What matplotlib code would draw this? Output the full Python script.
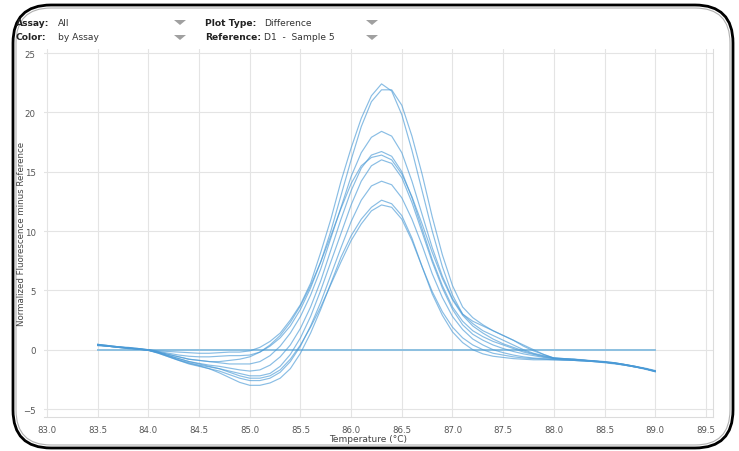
import matplotlib
matplotlib.use("Agg")
import matplotlib.pyplot as plt
import numpy as np
from matplotlib.patches import FancyBboxPatch, Polygon

# Temperature grid (°C), 83.5 .. 89.0 in 0.1 steps
temps = [round(83.5 + 0.1 * i, 1) for i in range(56)]

curve_a = [0.45, 0.35, 0.25, 0.2, 0.1, 0.0,
           -0.1, -0.15, -0.2, -0.25, -0.3, -0.3, -0.25, -0.2, -0.2, -0.1,
           0.2, 0.7, 1.4, 2.5, 3.8, 5.6, 8.2, 11.0, 14.2, 17.0,
           19.5, 21.4, 22.4, 21.8, 19.8, 16.8, 13.4, 10.0, 7.0, 4.6,
           3.0, 2.4, 2.0, 1.6, 1.2, 0.8, 0.4, 0.0, -0.4, -0.7,
           -0.75, -0.8, -0.85, -0.95, -1.0, -1.1, -1.25, -1.4, -1.6, -1.8]
curve_b = [0.4, 0.3, 0.25, 0.15, 0.1, 0.0,
           -0.15, -0.3, -0.45, -0.55, -0.6, -0.6, -0.55, -0.5, -0.5, -0.45,
           -0.2, 0.3, 1.0, 2.0, 3.4, 5.2, 7.4, 10.0, 13.0, 16.0,
           18.8, 20.9, 21.9, 21.9, 20.6, 18.0, 14.8, 11.2, 8.0, 5.4,
           3.6, 2.7, 2.1, 1.6, 1.2, 0.8, 0.3, -0.1, -0.4, -0.7,
           -0.75, -0.8, -0.9, -0.95, -1.05, -1.15, -1.25, -1.45, -1.6, -1.8]
curve_c = [0.35, 0.3, 0.2, 0.15, 0.1, -0.05,
           -0.2, -0.4, -0.6, -0.8, -0.9, -1.0, -1.1, -1.2, -1.2, -1.2,
           -1.0, -0.5, 0.3, 1.4, 2.8, 4.6, 6.8, 9.4, 12.0, 14.6,
           16.6, 17.9, 18.4, 18.0, 16.6, 14.2, 11.4, 8.6, 6.2, 4.3,
           3.0, 2.2, 1.6, 1.2, 0.8, 0.4, 0.0, -0.3, -0.5, -0.7,
           -0.8, -0.85, -0.9, -1.0, -1.05, -1.15, -1.3, -1.45, -1.6, -1.85]
curve_d = [0.4, 0.3, 0.2, 0.15, 0.05, -0.05,
           -0.25, -0.5, -0.75, -1.0, -1.15, -1.3, -1.4, -1.55, -1.7, -1.8,
           -1.7, -1.3, -0.6, 0.4, 1.8, 3.6, 5.8, 8.4, 11.0, 13.4,
           15.3, 16.4, 16.7, 16.3, 15.0, 12.8, 10.2, 7.6, 5.4, 3.6,
           2.4, 1.6, 1.1, 0.7, 0.4, 0.1, -0.2, -0.4, -0.6, -0.75,
           -0.8, -0.85, -0.9, -0.95, -1.05, -1.1, -1.25, -1.4, -1.6, -1.8]
curve_e = [0.45, 0.35, 0.25, 0.15, 0.05, 0.0,
           -0.2, -0.4, -0.6, -0.8, -0.9, -1.0, -1.0, -0.9, -0.8, -0.6,
           -0.2, 0.4, 1.2, 2.3, 3.7, 5.4, 7.4, 9.6, 11.9, 14.0,
           15.5, 16.2, 16.4, 16.0, 14.8, 12.9, 10.6, 8.2, 6.0, 4.2,
           2.9, 2.0, 1.4, 0.9, 0.5, 0.2, -0.1, -0.35, -0.55, -0.7,
           -0.75, -0.8, -0.9, -0.95, -1.0, -1.1, -1.25, -1.4, -1.55, -1.75]
curve_f = [0.35, 0.3, 0.2, 0.1, 0.05, -0.05,
           -0.25, -0.55, -0.85, -1.1, -1.3, -1.45, -1.6, -1.8, -2.0, -2.2,
           -2.2, -2.0, -1.4, -0.4, 1.0, 2.8, 5.0, 7.4, 9.8, 12.2,
           14.2, 15.5, 16.0, 15.7, 14.5, 12.4, 9.9, 7.4, 5.2, 3.4,
           2.1, 1.3, 0.8, 0.4, 0.1, -0.15, -0.35, -0.5, -0.65, -0.75,
           -0.8, -0.85, -0.9, -0.95, -1.05, -1.15, -1.25, -1.4, -1.6, -1.8]
curve_g = [0.4, 0.3, 0.2, 0.1, 0.05, -0.05,
           -0.3, -0.6, -0.9, -1.2, -1.4, -1.6, -1.8, -2.1, -2.4, -2.6,
           -2.6, -2.4, -1.9, -1.0, 0.3, 2.0, 4.0, 6.3, 8.6, 10.8,
           12.6, 13.8, 14.2, 13.9, 12.8, 11.0, 8.8, 6.4, 4.4, 2.8,
           1.7, 0.9, 0.4, 0.0, -0.25, -0.45, -0.6, -0.7, -0.75, -0.8,
           -0.85, -0.9, -0.95, -1.0, -1.05, -1.15, -1.3, -1.45, -1.6, -1.85]
curve_h = [0.45, 0.35, 0.25, 0.15, 0.05, -0.05,
           -0.3, -0.6, -0.9, -1.15, -1.35, -1.6, -1.95, -2.35, -2.75, -3.0,
           -3.0, -2.8, -2.4, -1.6, -0.3, 1.4, 3.4, 5.6, 7.8, 9.6,
           11.0, 12.0, 12.6, 12.3, 11.3, 9.4, 7.0, 4.7, 2.9, 1.5,
           0.6, 0.0, -0.35, -0.55, -0.65, -0.75, -0.8, -0.85, -0.85, -0.85,
           -0.9, -0.9, -0.95, -1.0, -1.05, -1.15, -1.3, -1.45, -1.6, -1.8]
curve_i = [0.4, 0.3, 0.2, 0.15, 0.05, 0.0,
           -0.25, -0.5, -0.75, -1.0, -1.2, -1.4, -1.6, -1.9, -2.2, -2.4,
           -2.4, -2.2, -1.7, -0.8, 0.4, 1.9, 3.6, 5.5, 7.4, 9.2,
           10.6, 11.7, 12.2, 12.0, 11.0, 9.2, 7.0, 4.9, 3.2, 1.9,
           1.0, 0.4, 0.0, -0.3, -0.45, -0.6, -0.7, -0.75, -0.8, -0.85,
           -0.85, -0.9, -0.95, -1.0, -1.1, -1.2, -1.3, -1.45, -1.65, -1.85]
curves = [curve_a, curve_b, curve_c, curve_d, curve_e, curve_f, curve_g, curve_h, curve_i]

reference_x = [83.5, 89.0]
reference_y = [0.0, 0.0]

x_ticks = [83.0, 83.5, 84.0, 84.5, 85.0, 85.5, 86.0, 86.5, 87.0, 87.5, 88.0, 88.5, 89.0, 89.5]
y_ticks = [-5, 0, 5, 10, 15, 20, 25]

W, H = 739, 452
fig = plt.figure(figsize=(W / 100, H / 100), dpi=100)
fig.patch.set_facecolor("white")

# background overlay in pixel coordinates
bg = fig.add_axes([0, 0, 1, 1], zorder=0)
bg.set_xlim(0, W)
bg.set_ylim(H, 0)
bg.axis("off")
bg.add_patch(FancyBboxPatch((13, 6), 720, 443, boxstyle="round,pad=0,rounding_size=38",
                            fill=False, edgecolor="black", linewidth=2.0))
bg.add_patch(FancyBboxPatch((16, 9), 714, 437, boxstyle="round,pad=0,rounding_size=35",
                            fill=False, edgecolor="#b0b0b0", linewidth=0.8))

hdr_fs = 6.6
bg.text(16, 24, "Assay:", fontsize=hdr_fs, fontweight="bold", va="center", color="#222222")
bg.text(58, 24, "All", fontsize=hdr_fs, va="center", color="#333333")
bg.text(16, 38, "Color:", fontsize=hdr_fs, fontweight="bold", va="center", color="#222222")
bg.text(58, 38, "by Assay", fontsize=hdr_fs, va="center", color="#333333")
bg.text(205, 24, "Plot Type:", fontsize=hdr_fs, fontweight="bold", va="center", color="#222222")
bg.text(264, 24, "Difference", fontsize=hdr_fs, va="center", color="#333333")
bg.text(205, 38, "Reference:", fontsize=hdr_fs, fontweight="bold", va="center", color="#222222")
bg.text(264, 38, "D1  -  Sample 5", fontsize=hdr_fs, va="center", color="#333333")
for (tx, ty) in [(180, 21), (180, 36), (372, 21), (372, 36)]:
    bg.add_patch(Polygon([[tx - 6, ty], [tx + 6, ty], [tx, ty + 5]], closed=True,
                         facecolor="#a0a0a0", edgecolor="none"))

# main plot area
left, right, top, bottom = 44, 713, 50, 418
ax = fig.add_axes([left / W, 1 - bottom / H, (right - left) / W, (bottom - top) / H], zorder=1)
ax.set_facecolor("white")
ax.set_xlim(82.97, 89.57)
ax.set_ylim(-5.67, 25.34)
ax.set_xticks(x_ticks)
ax.set_xticklabels([f"{t:.1f}" for t in x_ticks])
ax.set_yticks(y_ticks)
ax.grid(True, color="#e4e4e4", linewidth=0.8)
ax.set_axisbelow(True)
for s in ax.spines.values():
    s.set_visible(False)
for side in ("right", "bottom"):
    ax.spines[side].set_visible(True)
    ax.spines[side].set_color("#dcdcdc")
    ax.spines[side].set_linewidth(0.8)
ax.tick_params(length=0, labelsize=6.2, colors="#555555", pad=6)

ax.plot(reference_x, reference_y, color="#8cc0e0", linewidth=1.4, zorder=2)
for c in curves:
    ax.plot(temps, c, color="#4a9ad6", linewidth=0.85, alpha=0.65, zorder=3)

ax.set_xlabel("Temperature (°C)", fontsize=6.5, color="#444444")
ax.set_ylabel("Normalized Fluorescence minus Reference", fontsize=6.2, color="#444444")
ax.xaxis.set_label_coords(0.485, -0.045)
ax.yaxis.set_label_coords(-0.027, 0.5)

fig.savefig("out.png", dpi=100)
